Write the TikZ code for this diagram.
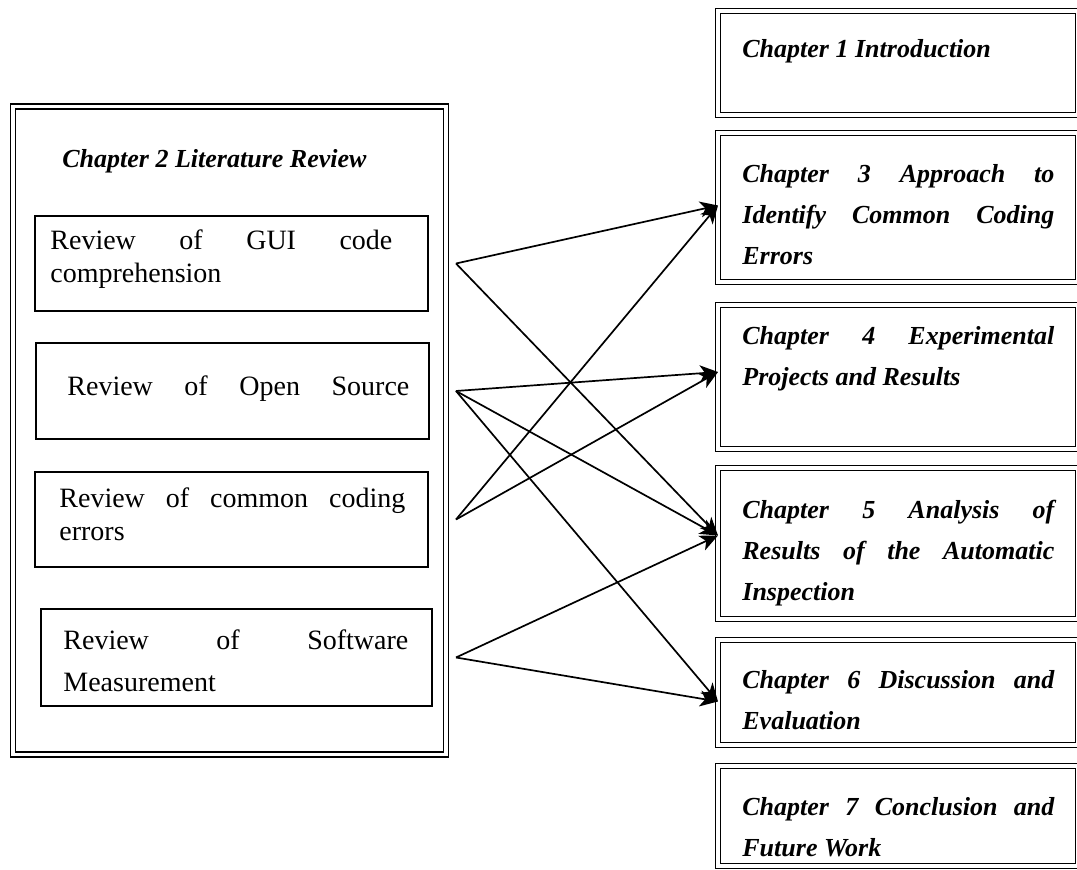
\documentclass[tikz,border=0pt]{standalone}
\usepackage{fontspec}
\setmainfont{Liberation Serif}
\usetikzlibrary{positioning,arrows.meta}

\tikzset{
  dblbox/.style={draw, double, double distance=1.8pt, line width=0.7pt,
    inner sep=0pt, outer sep=0pt, anchor=north west},
  revbox/.style={draw, line width=0.8pt, inner sep=0pt, outer sep=0pt,
    anchor=north west},
  chaptext/.style={anchor=base west, inner sep=0pt, text width=156pt, align=justify,
    font=\fontsize{13}{20.5}\selectfont\bfseries\itshape},
  revtext/.style={anchor=base west, inner sep=0pt, text width=171pt, align=justify,
    font=\fontsize{14}{16.5}\selectfont},
  link/.style={-{Stealth[length=9pt,width=8pt,inset=2.5pt]}, line width=0.85pt},
}

\begin{document}
\begin{tikzpicture}[x=0.5pt,y=-0.5pt]
  \useasboundingbox (0,0) rectangle (1077,870);

  % chapter 2 with its four reviews
  \node[dblbox, minimum width=216.5pt, minimum height=324pt] (lit) at (13,106.5) {};
  \node[chaptext, text width=200pt] (lit-text) at (62,168) {Chapter 2 Literature Review};

  \node[revbox, minimum width=196.5pt, minimum height=47.5pt] (gui) at (35,216) {};
  \node[revtext] (gui-text) at (50,250) {Review of GUI code\linebreak comprehension};

  \node[revbox, minimum width=196.5pt, minimum height=48pt] (open) at (36,343) {};
  \node[revtext] (open-text) at (67,396) {\makebox[\linewidth][s]{Review of Open Source}};

  \node[revbox, minimum width=196.5pt, minimum height=47.5pt] (err) at (35,472) {};
  \node[revtext, text width=173pt] (err-text) at (59,508) {Review of common coding\linebreak errors};

  \node[revbox, minimum width=195.5pt, minimum height=48.5pt] (meas) at (41,609) {};
  \node[revtext, text width=172.5pt, font=\fontsize{14}{21}\selectfont] (meas-text) at (63,650)
    {Review of Software\linebreak Measurement};

  % the other chapters
  \foreach \n/\ya/\hh/\yb/\txt in {
      1/11/104/58/{Chapter 1 Introduction},
      3/133/149/183/{Chapter 3 Approach to\linebreak Identify Common Coding\linebreak Errors},
      4/305/144/345/{Chapter 4 Experimental\linebreak Projects and Results},
      5/468/151/519/{Chapter 5 Analysis of\linebreak Results of the Automatic\linebreak Inspection},
      6/640/105/689/{Chapter 6 Discussion and\linebreak Evaluation},
      7/766/100/816/{Chapter 7 Conclusion and\linebreak Future Work}} {
    \node[dblbox, minimum width=180pt, minimum height=\hh*0.5pt] (ch\n) at (718,\ya) {};
    \node[chaptext] (ch\n-text) at (742,\yb) {\txt};
  }

  % ends of the links
  \foreach \s in {gui,open,err,meas}
    \coordinate (\s-out) at ([xshift=5pt]lit.east |- \s.east);
  \coordinate (ch3-in) at ([yshift=1pt]ch3.west);
  \coordinate (ch4-in) at ([yshift=2.5pt]ch4.west);
  \coordinate (ch5-in) at ([yshift=4pt]ch5.west);
  \coordinate (ch6-in) at ([yshift=-4.5pt]ch6.west);

  \foreach \s/\t in {gui/ch3, gui/ch5, open/ch4, open/ch5, open/ch6,
      err/ch3, err/ch4, meas/ch5, meas/ch6}
    \draw[link] (\s-out) -- (\t-in);
\end{tikzpicture}
\end{document}
